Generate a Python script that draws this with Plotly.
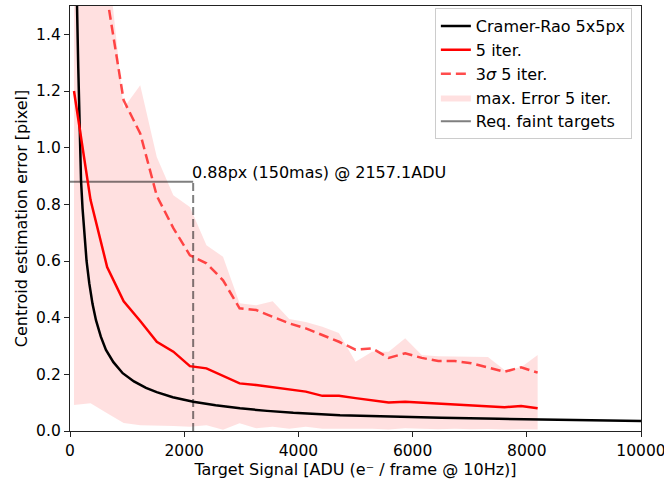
import plotly.graph_objects as go

# ---------------- data ----------------
signal = [70, 360, 650, 940, 1230, 1520, 1810, 2100, 2390, 2680, 2970, 3260, 3550,
          3840, 4130, 4420, 4710, 5000, 5290, 5580, 5870, 6160, 6450, 6740, 7030,
          7320, 7610, 7900, 8190]

err_5iter = [1.20, 0.815, 0.579, 0.458, 0.388, 0.315, 0.280, 0.229, 0.221, 0.194,
             0.168, 0.162, 0.154, 0.145, 0.139, 0.124, 0.124, 0.116, 0.109, 0.101,
             0.103, 0.100, 0.097, 0.093, 0.091, 0.087, 0.084, 0.088, 0.080]

err_3sigma = [3.60, 2.40, 1.53, 1.167, 1.050, 0.830, 0.716, 0.620, 0.592, 0.532,
              0.433, 0.427, 0.403, 0.380, 0.362, 0.339, 0.315, 0.287, 0.292, 0.258,
              0.274, 0.258, 0.247, 0.247, 0.239, 0.224, 0.209, 0.225, 0.206]

max_err_upper = [3.50, 2.50, 1.69, 1.14, 1.22, 0.967, 0.832, 0.791, 0.656, 0.615,
                 0.451, 0.444, 0.458, 0.395, 0.385, 0.368, 0.346, 0.244, 0.280, 0.280,
                 0.327, 0.268, 0.264, 0.263, 0.262, 0.261, 0.215, 0.225, 0.268]

max_err_lower = [0.092, 0.098, 0.063, 0.028, 0.020, 0.020, 0.018, 0.015, 0.020, 0.004,
                 0.027, 0.010, 0.015, 0.008, 0.015, 0.008, 0.008, 0.010, 0.008, 0.005,
                 0.010, 0.008, 0.006, 0.008, 0.006, 0.007, 0.005, 0.006, 0.005]

crb_signal = [60, 100, 123, 145, 163, 193, 220, 250, 290, 338, 395, 455, 540, 630, 760,
              923, 1120, 1331, 1518, 1800, 2159, 2550, 2977, 3450, 3911, 4729, 5500,
              6500, 7500, 8173, 9000, 10000]
crb_err = [3.00, 1.90, 1.50, 1.28, 1.13, 0.885, 0.785, 0.698, 0.600, 0.521, 0.448,
           0.391, 0.333, 0.286, 0.243, 0.204, 0.175, 0.152, 0.137, 0.119, 0.103,
           0.091, 0.080, 0.071, 0.064, 0.056, 0.051, 0.047, 0.043, 0.041, 0.038, 0.035]

req_err = 0.88
req_signal = 2157.1

x_ticks = [0, 2000, 4000, 6000, 8000, 10000]
y_ticks = [0.0, 0.2, 0.4, 0.6, 0.8, 1.0, 1.2, 1.4]

FONT = "DejaVu Sans"
fig = go.Figure()

# band (drawn first so the lines sit on top)
fig.add_trace(go.Scatter(x=signal, y=max_err_lower, mode="lines",
                         line=dict(width=0, color="rgba(255,0,0,0)"),
                         showlegend=False, hoverinfo="skip"))
fig.add_trace(go.Scatter(x=signal, y=max_err_upper, mode="lines", fill="tonexty",
                         fillcolor="rgba(255,0,0,0.12)",
                         line=dict(width=0, color="rgba(255,0,0,0)"),
                         name="max. Error 5 iter.", legendrank=4))

# requirement lines
fig.add_trace(go.Scatter(x=[0, req_signal], y=[req_err, req_err], mode="lines",
                         line=dict(color="rgba(0,0,0,0.5)", width=2),
                         name="Req. faint targets", legendrank=5))
fig.add_trace(go.Scatter(x=[req_signal, req_signal], y=[0, req_err], mode="lines",
                         line=dict(color="rgba(0,0,0,0.5)", width=2, dash="8px,4px"),
                         showlegend=False))

fig.add_trace(go.Scatter(x=crb_signal, y=crb_err, mode="lines",
                         line=dict(color="black", width=2.5),
                         name="Cramer-Rao 5x5px", legendrank=1))
fig.add_trace(go.Scatter(x=signal, y=err_5iter, mode="lines",
                         line=dict(color="#ff0000", width=2.5),
                         name="5 iter.", legendrank=2))
fig.add_trace(go.Scatter(x=signal, y=err_3sigma, mode="lines",
                         line=dict(color="rgba(255,0,0,0.7)", width=2.5, dash="10px,5px"),
                         name="3<i>σ</i> 5 iter.", legendrank=3))

fig.add_annotation(x=req_signal, y=0.914, xref="x", yref="y",
                   text="0.88px (150mas) @ 2157.1ADU", showarrow=False,
                   xanchor="left", yanchor="middle", xshift=-3,
                   font=dict(family=FONT, size=16, color="black"))

axis_common = dict(showgrid=False, zeroline=False, showline=True, mirror=True,
                   linecolor="#222", linewidth=1.3, ticks="outside", ticklen=5,
                   tickwidth=1.2, tickcolor="#222", automargin=False,
                   ticklabeloverflow="allow",
                   tickfont=dict(family=FONT, size=15.5, color="black"))

fig.update_layout(
    width=664, height=480,
    margin=dict(l=70, r=23, t=6, b=49),
    paper_bgcolor="white", plot_bgcolor="white",
    font=dict(family=FONT, size=16, color="black"),
    xaxis=dict(range=[0, 10000], tickvals=x_ticks,
               ticktext=[str(v) for v in x_ticks],
               title=dict(text="Target Signal [ADU (e⁻ / frame @ 10Hz)]",
                          font=dict(family=FONT, size=16), standoff=0),
               **axis_common),
    yaxis=dict(range=[0, 1.5], tickvals=y_ticks,
               ticktext=[f"{v:.1f}" for v in y_ticks],
               title=dict(text="Centroid estimation error [pixel]",
                          font=dict(family=FONT, size=16), standoff=4),
               **axis_common),
    legend=dict(x=0.984, y=0.995, xanchor="right", yanchor="top",
                traceorder="normal",
                bgcolor="rgba(255,255,255,0.8)", bordercolor="#cccccc", borderwidth=1,
                font=dict(family=FONT, size=16), tracegroupgap=0,
                itemwidth=30),
    showlegend=True,
)

fig.write_html("out.html", config={"displayModeBar": False},
               post_script="document.body.style.margin='0px';document.body.style.overflow='hidden';")
